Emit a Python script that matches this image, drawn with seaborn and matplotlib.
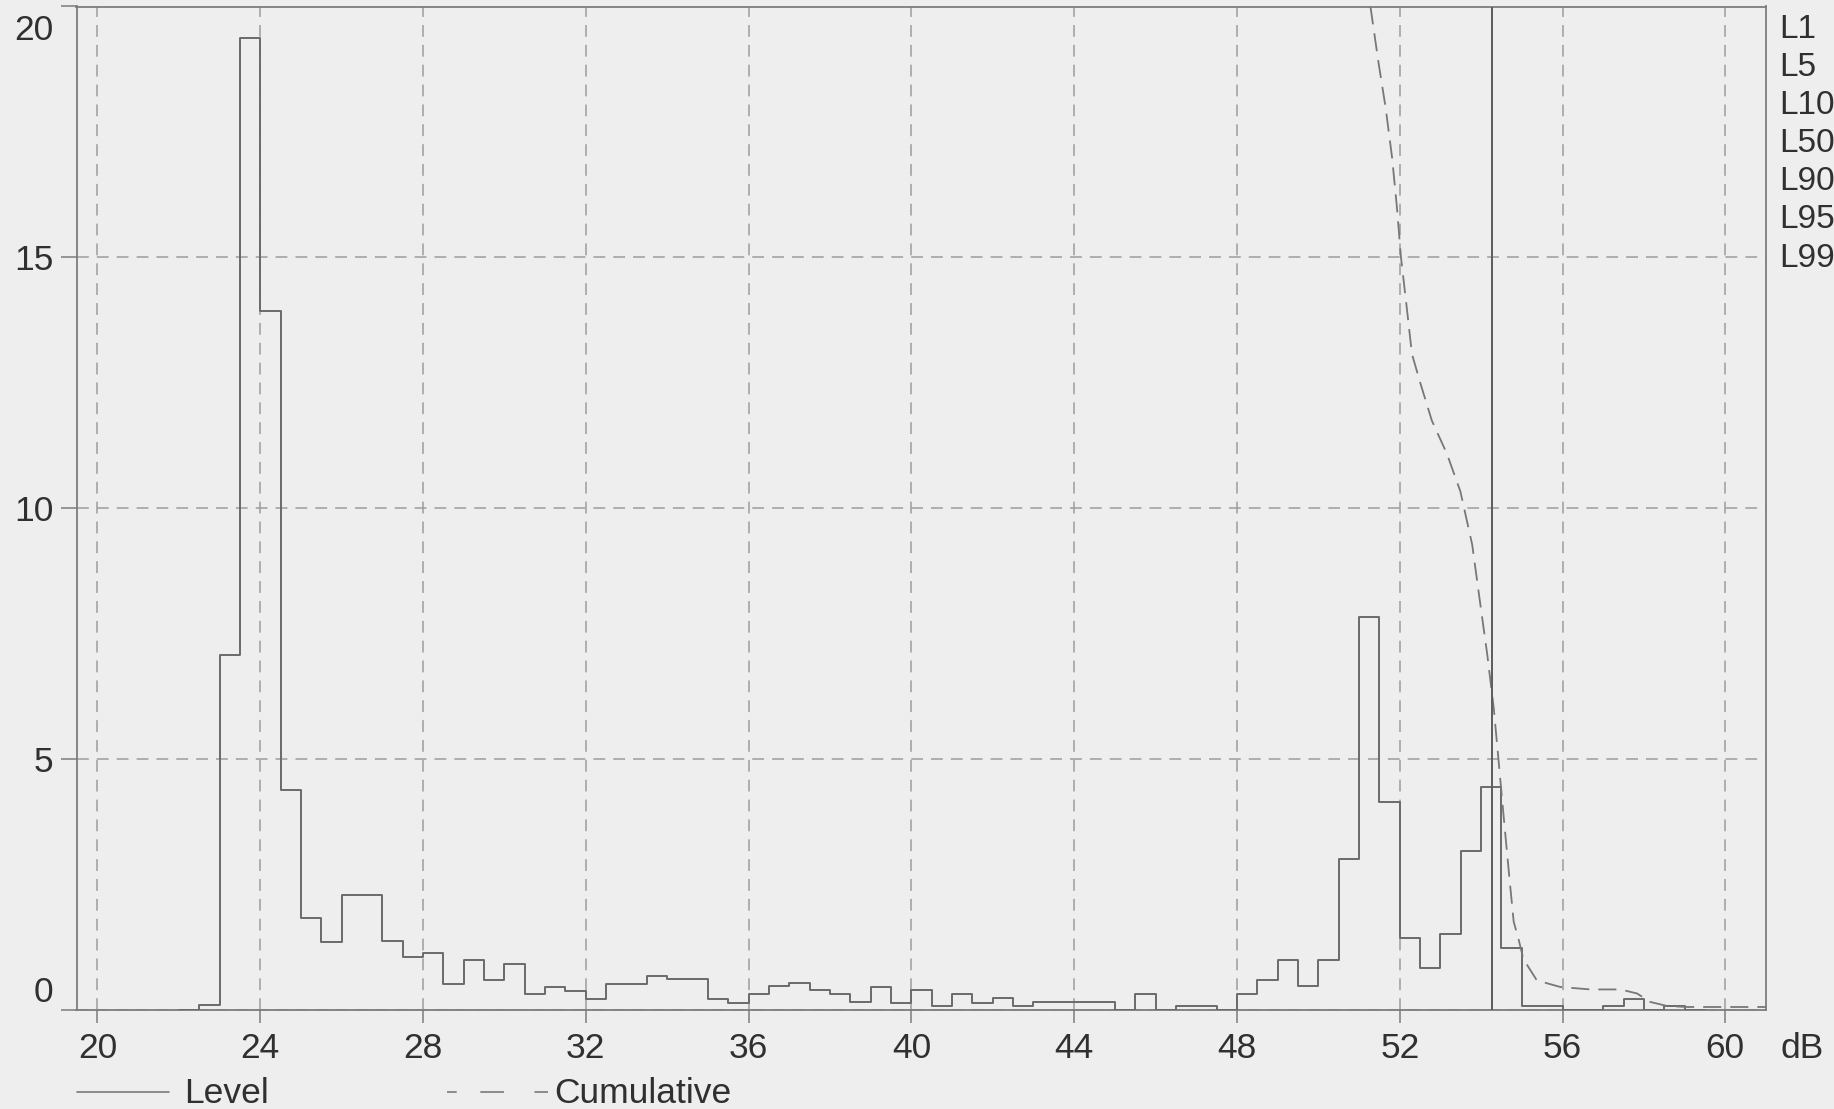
import numpy as np
import pandas as pd
import matplotlib
matplotlib.use("Agg")
import matplotlib.pyplot as plt
import matplotlib.transforms as mtransforms
from matplotlib.lines import Line2D
import seaborn as sns

# ---------------- data ----------------
bin_start_db = 22.0          # lower edge of first 0.5 dB class
bin_width_db = 0.5
level_pct = [
    0.0, 0.08, 7.06, 19.38, 13.92, 4.37, 1.82, 1.35, 2.28, 2.28,   # 22.0 .. 26.5
    1.37, 1.04, 1.12, 0.51, 0.99, 0.59, 0.91, 0.30, 0.45, 0.36,   # 27.0 .. 31.5
    0.21, 0.51, 0.51, 0.67, 0.61, 0.61, 0.21, 0.13, 0.30, 0.46,   # 32.0 .. 36.5
    0.53, 0.38, 0.30, 0.15, 0.45, 0.13, 0.38, 0.07, 0.30, 0.13,   # 37.0 .. 41.5
    0.22, 0.07, 0.15, 0.15, 0.15, 0.15, 0.0, 0.30, 0.0, 0.07,     # 42.0 .. 46.5
    0.07, 0.0, 0.30, 0.59, 0.99, 0.46, 0.99, 3.00, 7.83, 4.14,    # 47.0 .. 51.5
    1.43, 0.83, 1.50, 3.17, 4.44, 1.22, 0.06, 0.06, 0.0, 0.0,     # 52.0 .. 56.5
    0.07, 0.20, 0.0, 0.07, 0.0,                                   # 57.0 .. 59.0
]

cum_db = [51.28, 51.48, 51.65, 51.81, 51.93, 52.03, 52.18, 52.30, 52.51, 52.79,
          53.16, 53.49, 53.78, 53.98, 54.15, 54.31, 54.43, 54.55, 54.68, 54.80,
          54.92, 55.04, 55.12, 55.37, 55.94, 56.68, 57.42, 57.83, 58.16, 58.57,
          59.06, 59.72, 61.0]
cum_pct = [20.0, 18.87, 18.0, 17.0, 16.0, 15.0, 13.94, 13.07, 12.48, 11.74,
           11.08, 10.33, 9.27, 8.08, 7.08, 6.01, 4.95, 3.88, 2.75, 1.75,
           1.40, 1.0, 0.90, 0.58, 0.45, 0.40, 0.40, 0.32, 0.15, 0.07,
           0.05, 0.05, 0.05]

marker_db = 54.26
x_ticks = [20, 24, 28, 32, 36, 40, 44, 48, 52, 56, 60]
y_ticks = [0, 5, 10, 15, 20]
stat_labels = ["L1", "L5", "L10", "L50", "L90", "L95", "L99"]
legend_labels = ["Level", "Cumulative"]
unit_label = "dB"

# ---------------- styling ----------------
W, H = 1834, 1109
DPI = 100
BG = "#eeeeee"
LINE = "#6a6a6a"
GRID = "#9c9c9c"
TXT = "#303030"
FS = 25.5

sns.set_theme(style="white")
plt.rcParams["font.family"] = ["Liberation Sans", "DejaVu Sans"]
plt.rcParams["lines.scale_dashes"] = False

fig = plt.figure(figsize=(W / DPI, H / DPI), dpi=DPI, facecolor=BG)

def fx(px):
    return px / W

def fy(py):
    return 1 - py / H

left_px, right_px, top_px, bottom_px = 76.5, 1766, 6.5, 1009.5
ax = fig.add_axes([fx(left_px), fy(bottom_px), fx(right_px - left_px), (bottom_px - top_px) / H])
ax.set_facecolor(BG)

n = len(level_pct)
edges = (bin_start_db + bin_width_db * np.arange(n + 1)).tolist()
centers = [e + bin_width_db / 2 for e in edges[:-1]]
df = pd.DataFrame({"db": centers, "pct": level_pct})

sns.histplot(data=df, x="db", weights="pct", bins=edges, element="step", fill=False,
             color=LINE, linewidth=1.4, ax=ax, zorder=3)

cdf = pd.DataFrame({"db": cum_db, "pct": cum_pct})
sns.lineplot(data=cdf, x="db", y="pct", ax=ax, color="#777777", linewidth=1.3,
             linestyle=(0, (13, 6.5)), zorder=3)

ax.axvline(marker_db, color="#5c5c5c", linewidth=1.4, zorder=3)

ax.set_xlim(19.484, 61.0)
ax.set_ylim(0, 20)
ax.set_xticks(x_ticks)
ax.set_yticks(y_ticks)
ax.set_xticklabels([str(t) for t in x_ticks])
ax.set_yticklabels([str(t) for t in y_ticks])
ax.set_xlabel("")
ax.set_ylabel("")

ax.grid(True, color=GRID, linestyle=(0, (8.5, 5.8)), linewidth=1.1, zorder=1)
ax.set_axisbelow(True)
for s in ax.spines.values():
    s.set_visible(True)
    s.set_color("#7c7c7c")
    s.set_linewidth(1.3)

ax.tick_params(axis="x", direction="out", length=9.5, width=1.1, color="#7c7c7c",
               pad=7, labelsize=FS, labelcolor=TXT, bottom=True)
ax.tick_params(axis="y", direction="out", length=11.5, width=1.1, color="#7c7c7c",
               pad=5, labelsize=FS, labelcolor=TXT, left=True)

# first and last y labels are pulled inside the frame as in the reference
yt = ax.yaxis.get_major_ticks()
yt[0].label1.set_transform(yt[0].label1.get_transform() +
                           mtransforms.ScaledTranslation(0, 21 / DPI, fig.dpi_scale_trans))
yt[-1].label1.set_transform(yt[-1].label1.get_transform() +
                            mtransforms.ScaledTranslation(0, -20 / DPI, fig.dpi_scale_trans))

# unit label to the right of the x tick labels
fig.text(fx(1780), fy(1058.5), unit_label, fontsize=FS, color=TXT, ha="left", va="baseline")

# statistical level labels (clipped by the right edge as in the reference)
for i, lab in enumerate(stat_labels):
    fig.text(fx(1779), fy(37.5 + 38.2 * i), lab, fontsize=24, color=TXT,
             ha="left", va="baseline")

# legend drawn underneath the axis
ly = fy(1091.7)
fig.add_artist(Line2D([fx(77), fx(169)], [ly, ly], transform=fig.transFigure,
                      color="#7a7a7a", linewidth=1.2))
fig.text(fx(184), fy(1103.3), legend_labels[0], fontsize=FS, color=TXT, ha="left", va="baseline")
fig.add_artist(Line2D([fx(447), fx(548)], [ly, ly], transform=fig.transFigure,
                      color="#7a7a7a", linewidth=1.2,
                      linestyle=(0, (7, 17, 17, 22, 13, 60))))
fig.text(fx(554), fy(1103.3), legend_labels[1], fontsize=FS, color=TXT, ha="left", va="baseline")

fig.savefig("out.png", dpi=DPI, facecolor=BG)
